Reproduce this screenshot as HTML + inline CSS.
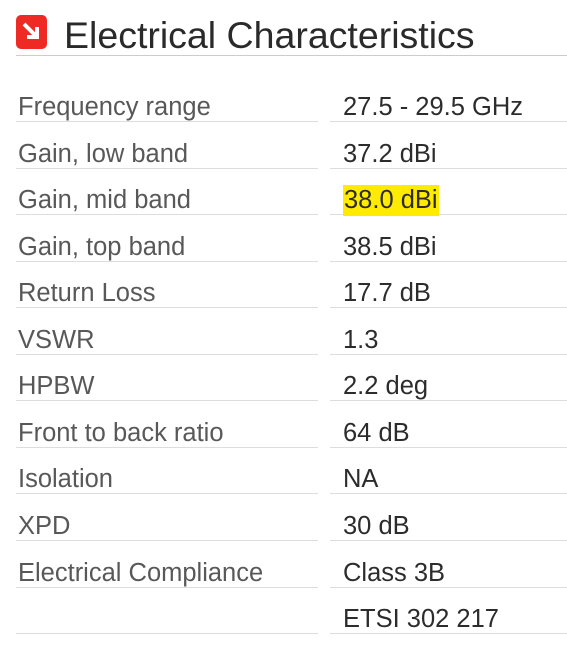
<!DOCTYPE html>
<html><head><meta charset="utf-8"><style>
body{margin:0;width:567px;height:651px;background:#fff;font-family:"Liberation Sans",sans-serif;position:relative;overflow:hidden}
.icon{position:absolute;left:16px;top:15px;width:31px;height:34px;background:#ee2a24;border-radius:5px}
.title{position:absolute;left:64px;top:14px;font-size:37.5px;color:#2a2a2a;line-height:42px;white-space:nowrap}
.hr{position:absolute;left:16px;top:55px;width:551px;height:1px;background:#ccc}
.cell{position:absolute;height:30px;line-height:30px;font-size:25.5px;white-space:nowrap;border-bottom:1px solid #ddd}
.l{left:16px;width:302px;color:#585858;padding-left:2px;box-sizing:border-box}
.r{left:330px;width:237px;color:#2c2c2c;padding-left:13px;box-sizing:border-box}
.hl{background:#ffeb00;padding:1px 1px 2px}
</style></head><body>
<div class="icon"><svg width="31" height="34" viewBox="0 0 31 34"><path d="M8 9 L20 21 M21 12 L21 22 L11 22" stroke="#fff" stroke-width="4" fill="none"/></svg></div>
<div class="title">Electrical Characteristics</div>
<div class="hr"></div>
<div id="tbl"></div>
<script>
const labels=["Frequency range","Gain, low band","Gain, mid band","Gain, top band","Return Loss","VSWR","HPBW","Front to back ratio","Isolation","XPD","Electrical Compliance",""];
const values=["27.5 - 29.5 GHz","37.2 dBi","38.0 dBi","38.5 dBi","17.7 dB","1.3","2.2 deg","64 dB","NA","30 dB","Class 3B","ETSI 302 217"];
const t=document.getElementById('tbl');
labels.forEach((lab,i)=>{
  const top=92+46.55*i;
  const a=document.createElement('div');
  a.className='cell l';a.style.top=top+'px';a.textContent=lab;
  
  
  t.appendChild(a);
  const b=document.createElement('div');
  b.className='cell r';b.style.top=top+'px';
  if(i===2){const s=document.createElement('span');s.className='hl';s.textContent=values[i];b.appendChild(s);}
  else b.textContent=values[i];
  
  
  t.appendChild(b);
});
</script>
</body></html>
